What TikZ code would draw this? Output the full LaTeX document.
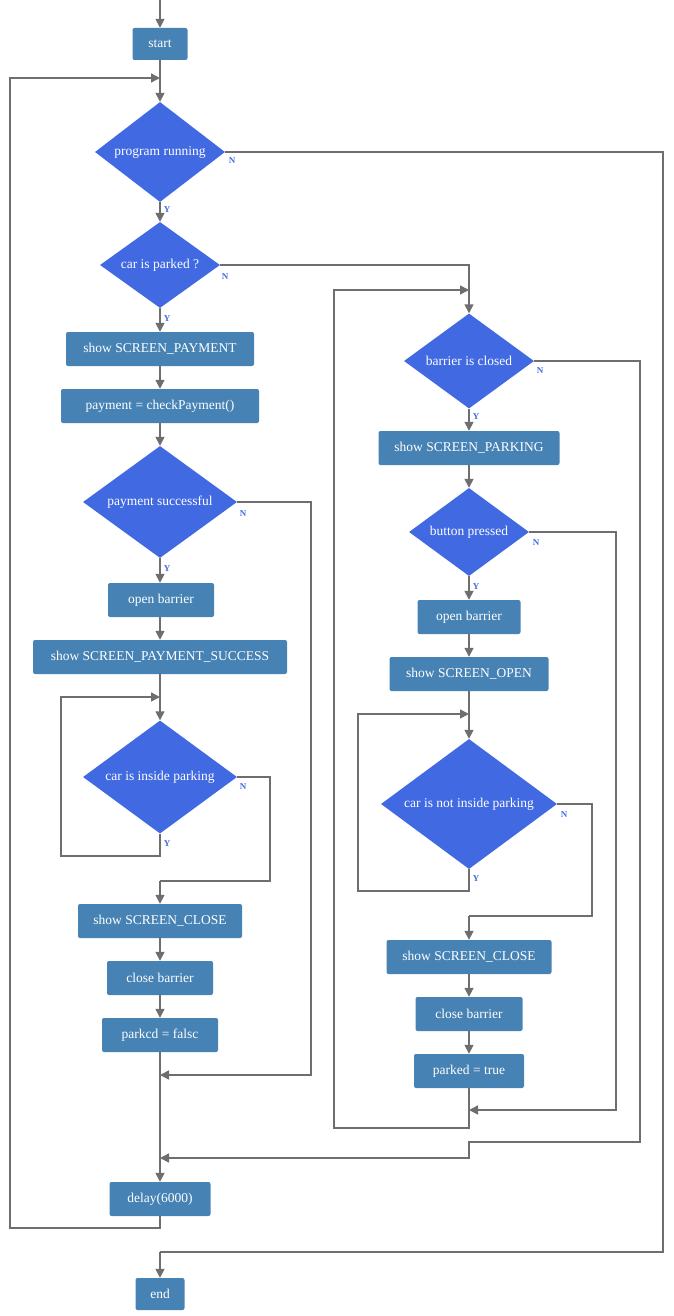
\documentclass[tikz,border=0pt]{standalone}
\usepackage{fontspec}
\setmainfont{Liberation Serif}
\usetikzlibrary{shapes.geometric,arrows.meta}
\definecolor{dia}{HTML}{4169E1}
\definecolor{box}{HTML}{4682B4}
\definecolor{ln}{HTML}{6E6E6E}
\begin{document}
\begin{tikzpicture}[x=1pt,y=-1pt,
  font=\fontsize{13.5}{15}\selectfont,
  proc/.style={rectangle,rounded corners=2pt,fill=box,text=white,minimum height=34pt,inner sep=0pt,anchor=center},
  dec/.style={diamond,fill=dia,text=white,inner sep=0pt,aspect=1.3},
  lbl/.style={text=dia,font=\fontsize{9}{10}\selectfont\bfseries},
  ar/.style={draw=ln,line width=1.6pt,-{Triangle[length=9pt,width=9pt]}},
  li/.style={draw=ln,line width=1.6pt}]
\useasboundingbox (0,0) rectangle (674,1316);
% left column
\node[proc,minimum width=55pt,minimum height=32pt] (start) at (160,44) {start};
\node[dec,minimum width=130pt,minimum height=100pt] (run) at (160,152) {program running};
\node[dec,minimum width=120pt,minimum height=86pt] (parked) at (160,265) {car is parked ?};
\node[proc,minimum width=188pt] (spay) at (160,349) {show SCREEN\_PAYMENT};
\node[proc,minimum width=198pt] (check) at (160,406) {payment = checkPayment()};
\node[dec,minimum width=154pt,minimum height=112pt] (succ) at (160,502) {payment successful};
\node[proc,minimum width=106pt] (open1) at (161,600) {open barrier};
\node[proc,minimum width=254pt] (spsucc) at (160,657) {show SCREEN\_PAYMENT\_SUCCESS};
\node[dec,minimum width=154pt,minimum height=113pt] (inside) at (160,777) {car is inside parking};
\node[proc,minimum width=164pt] (sclose1) at (160,921) {show SCREEN\_CLOSE};
\node[proc,minimum width=106pt] (close1) at (160,978) {close barrier};
\node[proc,minimum width=116pt] (pf) at (160,1035) {parkcd = falsc};
\node[proc,minimum width=101pt] (delay) at (160,1199) {delay(6000)};
\node[proc,minimum width=49pt,minimum height=32pt] (end) at (160,1294) {end};
% right column
\node[dec,minimum width=130pt,minimum height=95pt] (bc) at (469,361) {barrier is closed};
\node[proc,minimum width=181pt] (spark) at (469,448) {show SCREEN\_PARKING};
\node[dec,minimum width=120pt,minimum height=88pt] (btn) at (469,532) {button pressed};
\node[proc,minimum width=103pt] (open2) at (469,617) {open barrier};
\node[proc,minimum width=159pt] (sopen) at (469,674) {show SCREEN\_OPEN};
\node[dec,minimum width=176pt,minimum height=130pt] (notin) at (469,804) {car is not inside parking};
\node[proc,minimum width=165pt] (sclose2) at (469,957) {show SCREEN\_CLOSE};
\node[proc,minimum width=107pt] (close2) at (469,1014) {close barrier};
\node[proc,minimum width=110pt] (pt) at (469,1071) {parked = true};
% coordinates
\coordinate (top) at (160,0);
\coordinate (loopin) at (160,78);
\coordinate (bcin) at (469,290);
\coordinate (j1) at (160,1075);
\coordinate (j2) at (160,1158);
\coordinate (j3) at (469,1110);
\coordinate (ins) at (160,697);
\coordinate (nin) at (469,714);
\coordinate (endin) at (160,1252);
% left connectors
\draw[ar] (top) -- (start);
\draw[li] (start) -- (loopin);
\draw[ar] (loopin) -- (run);
\draw[ar] (delay.south) -- (160,1228) -- (10,1228) -- (10,78) -- (loopin);
\draw[ar] (run) -- (parked);
\draw[li] (run.east) -- (663,152) -- (663,1252) -- (endin);
\draw[ar] (endin) -- (end);
\draw[ar] (parked) -- (spay);
\draw[ar] (spay) -- (check);
\draw[ar] (check) -- (succ);
\draw[ar] (succ) -- (open1.north -| succ.south);
\draw[ar] (open1.south -| spsucc.north) -- (spsucc);
\draw[li] (spsucc) -- (ins);
\draw[ar] (ins) -- (inside);
\draw[ar] (inside.south) -- (160,856) -- (61,856) -- (61,697) -- (ins);
\draw[li] (inside.east) -- (270,777) -- (270,881) -- (160,881);
\draw[ar] (160,881) -- (sclose1);
\draw[ar] (sclose1) -- (close1);
\draw[ar] (close1) -- (pf);
\draw[ar] (succ.east) -- (311,502) -- (311,1075) -- (j1);
\draw[ar] (pf) -- (delay);
% right connectors
\draw[li] (parked.east) -- (469,265) -- (bcin);
\draw[ar] (bcin) -- (bc);
\draw[ar] (bc) -- (spark);
\draw[ar] (spark) -- (btn);
\draw[ar] (btn) -- (open2);
\draw[ar] (open2) -- (sopen);
\draw[li] (sopen) -- (nin);
\draw[ar] (nin) -- (notin);
\draw[ar] (notin.south) -- (469,891) -- (358,891) -- (358,714) -- (nin);
\draw[li] (notin.east) -- (592,804) -- (592,916) -- (469,916);
\draw[ar] (469,916) -- (sclose2);
\draw[ar] (sclose2) -- (close2);
\draw[ar] (close2) -- (pt);
\draw[ar] (btn.east) -- (616,532) -- (616,1110) -- (j3);
\draw[ar] (pt.south) -- (469,1128) -- (334,1128) -- (334,290) -- (bcin);
\draw[ar] (bc.east) -- (640,361) -- (640,1142) -- (469,1142) -- (469,1158) -- (j2);
% labels
\node[lbl] (n1) at (232,161) {N};
\node[lbl] (y1) at (167,210) {Y};
\node[lbl] (n2) at (225,277) {N};
\node[lbl] (y2) at (167,319) {Y};
\node[lbl] (n3) at (243,514) {N};
\node[lbl] (y3) at (167,569) {Y};
\node[lbl] (n4) at (243,787) {N};
\node[lbl] (y4) at (167,844) {Y};
\node[lbl] (n5) at (540,371) {N};
\node[lbl] (y5) at (476,417) {Y};
\node[lbl] (n6) at (536,543) {N};
\node[lbl] (y6) at (476,587) {Y};
\node[lbl] (n7) at (564,815) {N};
\node[lbl] (y7) at (476,879) {Y};
\end{tikzpicture}
\end{document}
